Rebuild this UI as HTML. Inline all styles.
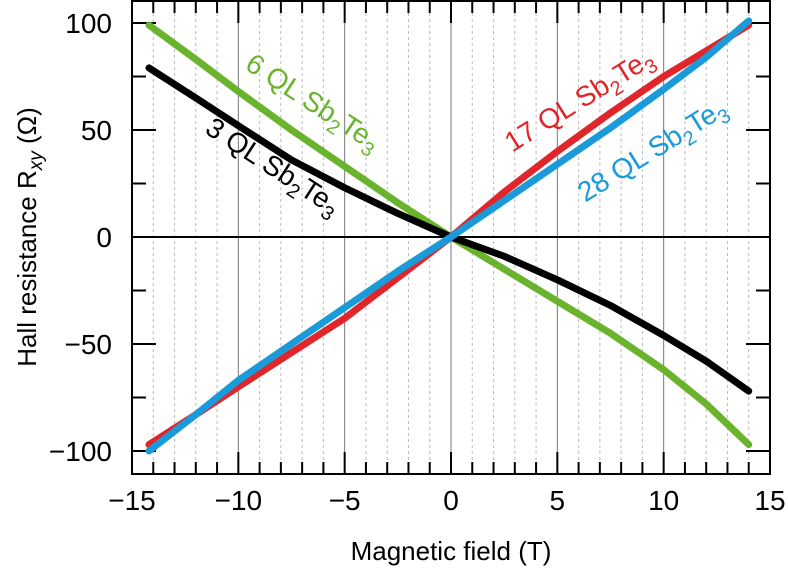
<!DOCTYPE html>
<html><head><meta charset="utf-8"><style>
body{margin:0;background:#fff;}
svg{display:block;font-family:"Liberation Sans",sans-serif;}
</style></head><body>
<svg id="c" width="788" height="574">
</svg>
<script>
const xs=[-14.2,-12,-10,-7.5,-5,-2.5,0,2.5,5,7.5,10,12,14];
const green=[99,83,68,50,33,16,0,-15,-30,-45,-62,-78,-97];
const black=[79,65,52,36,23,11,0,-9,-20,-32,-46,-58,-72];
const red=[-97,-83,-70,-54,-38,-19,0,21,40,58,75,87,99];
const blue=[-100,-83,-67,-50,-33,-16,0,17,34,51,69,84,101];
const xTicks=[-15,-10,-5,0,5,10,15];
const yTicks=[-100,-50,0,50,100];
const L=132,R=770,T=1,B=474;
const X=v=>L+(v+15)*(R-L)/30;
const Y=v=>237-v*2.14;
const svg=document.getElementById('c');
const NS='http://www.w3.org/2000/svg';
function mk(tag,a,p){const e=document.createElementNS(NS,tag);for(const k in a)e.setAttribute(k,a[k]);(p||svg).appendChild(e);return e;}
for(let v=-14;v<=14;v++){
 const major=v%5===0;
 const g=mk('line',{x1:X(v),x2:X(v),y1:T,y2:B,stroke:major?'#777':'#bbb','stroke-width':1,'stroke-dasharray':major?'':'3,3'});
 
 
 const tl=major?22:12;
 mk('line',{x1:X(v),x2:X(v),y1:B,y2:B-tl,stroke:'#000','stroke-width':2});
 mk('line',{x1:X(v),x2:X(v),y1:T,y2:T+tl,stroke:'#000','stroke-width':2});
}
for(let v=-100;v<=100;v+=25){
 const tl=v%50===0?24:14;
 mk('line',{x1:L,x2:L+tl,y1:Y(v),y2:Y(v),stroke:'#000','stroke-width':2});
 mk('line',{x1:R,x2:R-tl,y1:Y(v),y2:Y(v),stroke:'#000','stroke-width':2});
}
const z=mk('line',{x1:L,x2:R,y1:Y(0),y2:Y(0),stroke:'#000','stroke-width':2});


const fr=mk('rect',{x:L,y:T,width:R-L,height:B-T,fill:'none',stroke:'#000','stroke-width':2});


xTicks.forEach(v=>{const t=mk('text',{x:X(v),y:510,'font-size':28,'text-anchor':'middle'});t.textContent=(v<0?'\u2212'+(-v):v);
 
 });
yTicks.forEach(v=>{const t=mk('text',{x:112,y:Y(v)+10,'font-size':28,'text-anchor':'end'});t.textContent=(v<0?'\u2212'+(-v):v);
 
 });
function series(vals,col,name){
 const d=xs.map((x,i)=>(i?'L':'M')+X(x)+','+Y(vals[i])).join(' ');
 const p=mk('path',{d:d,fill:'none',stroke:col,'stroke-width':7,'stroke-linecap':'round','stroke-linejoin':'round'});
 
 
}
series(green,'#6ab42d','series-6ql');
series(black,'#000','series-3ql');
series(red,'#e0262a','series-17ql');
series(blue,'#1a9ad9','series-28ql');
function lab(txt,x,y,rot,col,name){
 const t=mk('text',{x:x,y:y,'font-size':28,fill:col,'text-anchor':'middle',transform:`rotate(${rot} ${x} ${y})`});
 t.innerHTML=txt+' QL Sb<tspan dy="7" font-size="20">2</tspan><tspan dy="-7">Te</tspan><tspan dy="7" font-size="20">3</tspan>';
 
 
}
lab('6',308,110,33,'#6ab42d','label-6ql');
lab('3',268,174,33,'#000','label-3ql');
lab('17',584,108,-32,'#e0262a','label-17ql');
lab('28',657,158,-32,'#1a9ad9','label-28ql');
const xt=mk('text',{x:451,y:560,'font-size':26,'text-anchor':'middle'});xt.textContent='Magnetic field (T)';


const yt=mk('text',{x:36,y:237,'font-size':26,'text-anchor':'middle',transform:'rotate(-90 36 237)'});
yt.innerHTML='Hall resistance R<tspan dy="6" font-size="19" font-style="italic">xy</tspan><tspan dy="-6"> (\u03A9)</tspan>';


</script>
</body></html>
